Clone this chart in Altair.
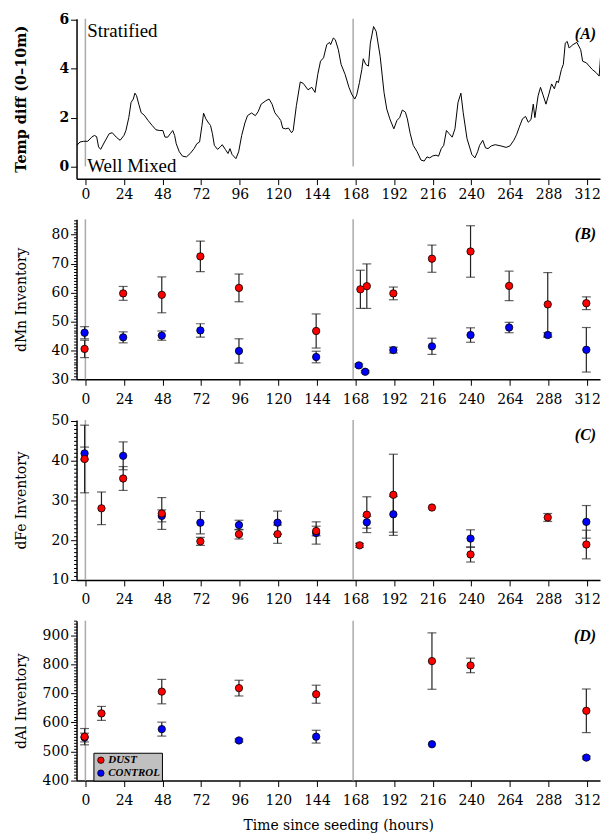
import altair as alt
import pandas as pd

# ---------------- data ----------------
temp_hours = [-5.3, -3.4, -1, 1.5, 3.9, 5.6, 7, 8.2, 9.5, 11.9, 14.8, 16.7, 19.2, 21.6, 24, 25.2, 27, 28.4, 29.8,
              30.8, 31.8, 33.2, 34.7, 36.6, 39, 41.5, 43.9, 46.3, 48.2, 49.5, 51.2, 52.8, 54.3, 55.5, 56.5, 58.4,
              60.4, 62.8, 65.2, 67.6, 69.3, 71, 72.5, 73.5, 74.9, 76.6, 77.8, 79, 80.2, 82.2, 83.9, 85.1, 87, 88.7,
              89.9, 91.2, 93.6, 95.3, 97.2, 99.2, 100.8, 103.3, 105.7, 107.4, 109.3, 112.2, 114.2, 116.1, 117.8,
              120.2, 121.5, 122.7, 124.4, 126.3, 128.2, 129.2, 131.2, 133.6, 135.5, 138.4, 140.8, 142.8, 144.5,
              146.2, 148.1, 150.1, 151.8, 152.5, 154.2, 155.4, 157.3, 159, 161.5, 163.9, 165.6, 167.5, 168.7,
              170.4, 171.9, 172.8, 174.3, 176, 177.2, 179.2, 180.8, 183.3, 185.7, 187.4, 189.3, 191.8, 193.7,
              195.4, 197.1, 199, 200.2, 202, 203.9, 206.3, 208.7, 210.7, 212.4, 214.1, 216, 218, 219.6, 221.3,
              222.8, 224.5, 226.2, 228.1, 229.8, 231.7, 233.5, 234.9, 237.3, 240.3, 242.2, 243.9, 245.1, 247.1,
              248.8, 250.4, 252.4, 254.8, 258.4, 261.6, 264, 266.4, 268.1, 269.8, 271.8, 273.7, 275.4, 277.1,
              278.5, 279.5, 281.5, 283, 284.4, 286.4, 288.2, 289.9, 291.6, 293.1, 294.1, 296, 297.2, 298.4,
              299.6, 300.8, 303.2, 305.6, 308, 309.2, 311.6, 313.3, 315.2, 317.6, 319.5, 321.2]
temp_diff = [0.86, 1.0, 1.03, 1.03, 1.2, 1.27, 1.22, 0.8, 0.7, 1.0, 1.34, 1.38, 1.2, 1.07, 1.27, 1.47, 2.0, 2.62, 2.76,
             3.0, 2.9, 2.55, 2.2, 2.1, 1.88, 1.68, 1.5, 1.47, 1.47, 1.2, 1.2, 1.34, 1.47, 1.27, 0.93, 0.6,
             0.42, 0.39, 0.53, 0.73, 0.93, 1.0, 1.68, 2.18, 1.95, 1.78, 1.68, 1.34, 0.86, 0.7, 0.8, 0.89, 0.7, 0.53,
             0.73, 0.49, 0.32, 0.6, 1.27, 1.78, 2.08, 2.19, 2.08, 2.24, 2.55, 2.69, 2.76, 2.55, 2.2,
             2.0, 1.88, 1.57, 1.54, 1.57, 1.38, 1.47, 2.49, 3.46, 3.4, 3.14, 3.24, 3.03, 3.77,
             4.31, 4.45, 4.99, 5.08, 4.99, 5.26, 5.19, 4.78, 4.18, 3.77, 3.24, 2.96, 2.76, 2.92,
             3.43, 3.97, 4.41, 4.18, 4.11, 5.05, 5.73, 5.53, 4.51, 3.03, 2.35, 1.95, 1.54, 1.88,
             2.0, 2.31, 2.22, 1.95, 1.34, 0.86, 0.6, 0.26, 0.22, 0.39, 0.35, 0.43, 0.46, 0.42, 0.73,
             0.86, 1.47, 1.34, 1.2, 1.54, 2.62, 3.0, 2.22, 1.14, 0.49, 0.35, 0.6, 0.86, 1.07,
             0.76, 0.73, 0.84, 0.89, 0.84, 0.78, 0.84, 1.07, 1.3, 1.61, 1.95, 2.05, 1.81, 1.92,
             2.55, 2.0, 2.89, 3.24, 2.96, 2.55, 2.96, 3.38, 3.18, 3.5, 3.43, 3.97, 4.18, 5.05,
             5.12, 4.85, 4.99, 5.08, 4.78, 4.31, 4.24, 4.11, 3.97, 3.84, 3.7, 5.32]

mn_dust_hours = [-0.5, 23.5, 47.5, 71.5, 95.5, 143.5, 171, 175, 191.5, 215.5, 239.5, 263.5, 287.5, 311.5]
mn_dust = [40.5, 59.7, 59.2, 72.5, 61.6, 46.7, 61.1, 62.2, 59.7, 71.7, 74.2, 62.3, 55.9, 56.3]
mn_dust_err = [3.0, 2.4, 6.2, 5.3, 4.8, 5.9, 6.6, 7.7, 2.2, 4.7, 8.9, 5.1, 11.0, 2.2]
mn_ctrl_hours = [-0.5, 23.5, 47.5, 71.5, 95.5, 143.5, 170, 174, 191.5, 215.5, 239.5, 263.5, 287.5, 311.5]
mn_ctrl = [46.1, 44.5, 45.1, 46.9, 39.8, 37.7, 34.8, 32.6, 40.1, 41.4, 45.3, 47.9, 45.3, 40.2]
mn_ctrl_err = [2.1, 1.9, 1.6, 2.3, 4.2, 2.0, 0.5, 0.4, 1.0, 2.8, 2.5, 1.8, 0.8, 7.7]

fe_dust_hours = [-0.5, 10, 23.5, 47.5, 71.5, 95.5, 119.5, 143.5, 170.5, 175, 191.5, 215.5, 239.5, 287.5, 311.5]
fe_dust = [40.4, 28.0, 35.5, 26.7, 19.7, 21.5, 21.5, 22.3, 18.7, 26.4, 31.4, 28.2, 16.4, 25.7, 18.9]
fe_dust_err = [8.5, 4.1, 3.0, 4.0, 1.0, 1.2, 2.3, 1.2, 0.5, 4.5, 10.2, 0.0, 1.9, 1.0, 3.6]
fe_ctrl_hours = [-0.5, 23.5, 47.5, 71.5, 95.5, 119.5, 143.5, 175, 191.5, 239.5, 311.5]
fe_ctrl = [41.8, 41.2, 26.1, 24.4, 23.8, 24.4, 21.8, 24.5, 26.5, 20.4, 24.6]
fe_ctrl_err = [1.6, 3.5, 1.5, 2.8, 1.2, 2.9, 2.8, 1.5, 4.5, 2.2, 4.1]

al_dust_hours = [-0.5, 10, 47.5, 95.5, 143.5, 215.5, 239.5, 311.5]
al_dust = [551, 631, 706, 718, 697, 811, 796, 640]
al_dust_err = [28, 24, 42, 27, 31, 97, 25, 75]
al_ctrl_hours = [-0.5, 47.5, 95.5, 143.5, 215.5, 311.5]
al_ctrl = [548, 577, 538, 551, 525, 479]
al_ctrl_err = [15, 24, 5, 22, 0, 5]

seed_lines = [0, 166.5]
groups = ["DUST", "CONTROL"]
group_colors = ["#ff0000", "#0000ff"]

# ---------------- layout constants ----------------
W = 527
H = 161
X_DOMAIN = [-5.5, 320]
SERIF = "DejaVu Serif"
TIMES = "Liberation Serif"
TICK_COLOR = "#222222"


def x_enc(title=None, pad=7):
    return alt.X(
        "t:Q",
        scale=alt.Scale(domain=X_DOMAIN, nice=False, zero=False),
        axis=alt.Axis(
            values=list(range(0, 313, 12)),
            labelExpr="datum.value % 24 === 0 ? datum.label : ''",
            tickSize={"condition": {"test": "datum.value % 24 === 0", "value": 6}, "value": 3},
            labelFlush=False,
            labelPadding=pad,
            titlePadding=11,
            titleFontWeight="normal",
        ),
        title=title,
    )


def y_axis(vmin, vmax, step, major, bold=False):
    vals = []
    v = vmin
    while v <= vmax + 1e-9:
        vals.append(round(v, 6))
        v += step
    return alt.Axis(
        values=vals,
        labelExpr=f"datum.value % {major} === 0 ? datum.label : ''",
        tickSize={"condition": {"test": f"datum.value % {major} === 0", "value": 6}, "value": 3},
        labelFontWeight="bold" if bold else "normal",
        titleFontWeight="bold" if bold else "normal",
        titleFontSize=14.5 if bold else 14,
        minExtent=36,
        maxExtent=36,
        titlePadding=12,
        labelFlush=False,
    )


def seed_rules(ydom=None):
    df = pd.DataFrame({"t": seed_lines})
    base = alt.Chart(df).mark_rule(color="#aaaaaa", strokeWidth=1.5)
    if ydom is None:
        return base.encode(x=alt.X("t:Q"))
    return base.encode(x=alt.X("t:Q"), y=alt.datum(ydom[0]), y2=alt.datum(ydom[1]))


def panel_label(text):
    return alt.Chart(pd.DataFrame({"lab": [text]})).mark_text(
        font=TIMES, fontSize=16, fontWeight="bold", fontStyle="italic", align="right", baseline="middle",
        color="black"
    ).encode(text="lab:N", x=alt.value(W - 4), y=alt.value(15))


def scatter_panel(dh, dv, de, ch, cv, ce, ydom, yaxis, ytitle, label, legend=None, xtitle=None):
    rows = []
    for h, v, e in zip(ch, cv, ce):
        rows.append({"t": h, "v": v, "lo": v - e, "hi": v + e, "err": e, "group": "CONTROL", "ord": 0})
    for h, v, e in zip(dh, dv, de):
        rows.append({"t": h, "v": v, "lo": v - e, "hi": v + e, "err": e, "group": "DUST", "ord": 1})
    df = pd.DataFrame(rows)
    eb = df[df["err"] > 0]
    yscale = alt.Scale(domain=ydom, nice=False, zero=False)
    y = alt.Y("v:Q", scale=yscale, axis=yaxis, title=ytitle)

    rules = seed_rules()
    bars = alt.Chart(eb).mark_rule(color=TICK_COLOR, strokeWidth=1.2).encode(
        x=x_enc(xtitle), y=alt.Y("lo:Q", scale=yscale, axis=yaxis, title=ytitle), y2="hi:Q")
    cap_lo = alt.Chart(eb).mark_tick(orient="horizontal", size=9, thickness=1.2, color=TICK_COLOR).encode(
        x=x_enc(xtitle), y=alt.Y("lo:Q", scale=yscale, axis=yaxis, title=ytitle))
    cap_hi = alt.Chart(eb).mark_tick(orient="horizontal", size=9, thickness=1.2, color=TICK_COLOR).encode(
        x=x_enc(xtitle), y=alt.Y("hi:Q", scale=yscale, axis=yaxis, title=ytitle))
    pts = alt.Chart(df).mark_circle(size=55, stroke="black", strokeWidth=0.8, opacity=1).encode(
        x=x_enc(xtitle), y=y,
        fill=alt.Fill("group:N", scale=alt.Scale(domain=groups, range=group_colors), legend=legend),
        order=alt.Order("ord:Q"),
    )
    return alt.layer(rules, bars, cap_lo, cap_hi, pts, panel_label(label)).properties(width=W, height=H)


# ---------------- panel A ----------------
ydomA = [-0.5, 6.05]
yscaleA = alt.Scale(domain=ydomA, nice=False, zero=False)
dfA = pd.DataFrame({"t": temp_hours, "v": temp_diff})
lineA = alt.Chart(dfA).mark_line(color="black", strokeWidth=1, clip=True).encode(
    x=x_enc(None, pad=3),
    y=alt.Y("v:Q", scale=yscaleA, axis=y_axis(0, 6, 1, 2, bold=True), title="Temp diff (0\u201310m)"),
)
annot = pd.DataFrame({"t": [1.2, 1.2], "v": [5.55, 0.0], "txt": ["Stratified", "Well Mixed"]})
textA = alt.Chart(annot).mark_text(font=TIMES, fontSize=19, align="left", baseline="middle", color="black").encode(
    x="t:Q", y="v:Q", text="txt:N")
panelA = alt.layer(seed_rules([6.05, 0.0]), lineA, textA, panel_label("(A)")).properties(width=W, height=H)

# ---------------- panels B, C, D ----------------
panelB = scatter_panel(mn_dust_hours, mn_dust, mn_dust_err, mn_ctrl_hours, mn_ctrl, mn_ctrl_err,
                       [30, 85.3], y_axis(30, 85, 1, 10), "dMn Inventory", "(B)")
panelC = scatter_panel(fe_dust_hours, fe_dust, fe_dust_err, fe_ctrl_hours, fe_ctrl, fe_ctrl_err,
                       [10, 50.2], y_axis(10, 50, 1, 10), "dFe Inventory", "(C)")
legendD = alt.Legend(
    title=None, orient="none", legendX=17, legendY=133, fillColor="#c0c0c0", strokeColor="black",
    padding=2, labelFont=TIMES, labelFontSize=11, labelFontStyle="italic", labelFontWeight="bold",
    labelColor="black", symbolType="circle", symbolSize=42, symbolStrokeColor="black", symbolStrokeWidth=0.8,
    rowPadding=1, labelOffset=2, symbolOpacity=1,
)
panelD = scatter_panel(al_dust_hours, al_dust, al_dust_err, al_ctrl_hours, al_ctrl, al_ctrl_err,
                       [400, 950], y_axis(400, 950, 10, 100), "dAl Inventory", "(D)", legend=legendD,
                       xtitle="Time since seeding (hours)")

chart = alt.vconcat(panelA, panelB, panelC, panelD, spacing=41, bounds="flush").resolve_legend(
    fill="independent"
).properties(
    padding={"left": 6, "top": 2, "right": 0, "bottom": 0}
).configure_view(stroke=None).configure_axis(
    domainColor="black", domainWidth=1.5, tickColor="black", tickWidth=1, grid=False,
    labelFont=SERIF, labelFontSize=14, labelColor="black",
    titleFont=SERIF, titleFontSize=14, titleColor="black", titleFontWeight="normal",
)

chart.save("out.html", embed_options={"renderer": "svg", "actions": False})
